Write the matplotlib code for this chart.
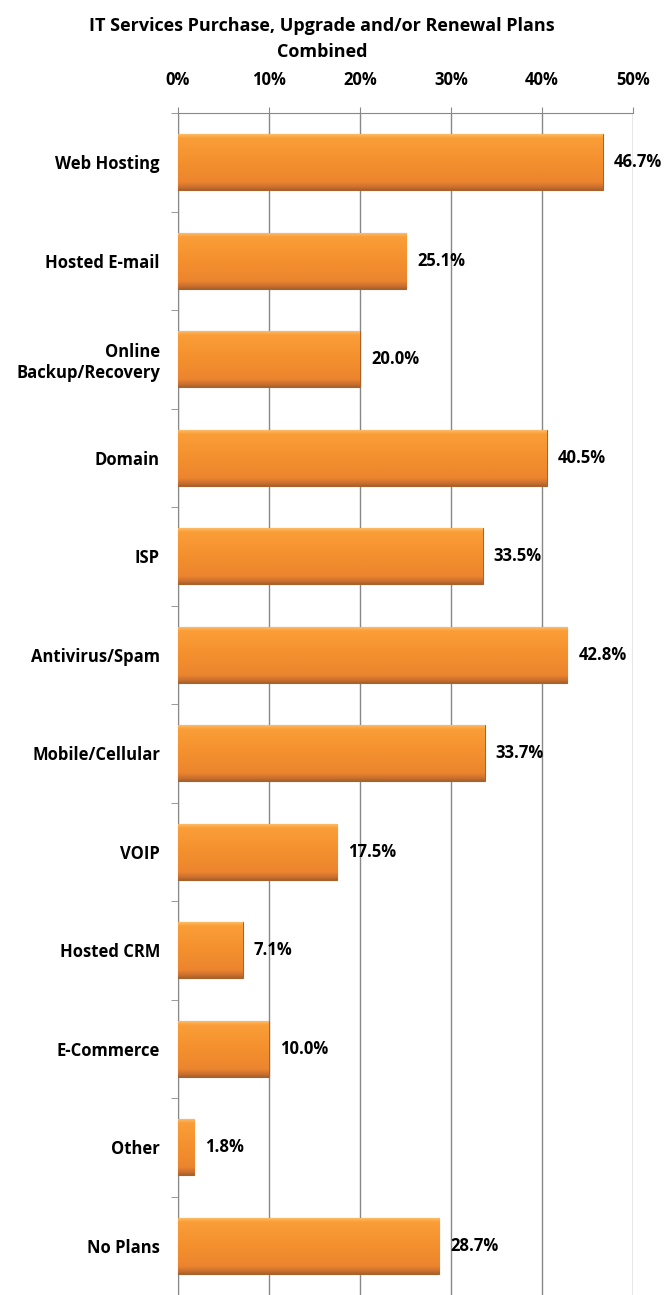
import numpy as np
import matplotlib.pyplot as plt
from matplotlib.colors import LinearSegmentedColormap
from matplotlib.ticker import FixedLocator, PercentFormatter

categories = ["Web Hosting", "Hosted E-mail", "Online\nBackup/Recovery", "Domain", "ISP",
              "Antivirus/Spam", "Mobile/Cellular", "VOIP", "Hosted CRM", "E-Commerce",
              "Other", "No Plans"]
values = [46.7, 25.1, 20.0, 40.5, 33.5, 42.8, 33.7, 17.5, 7.1, 10.0, 1.8, 28.7]
title = "IT Services Purchase, Upgrade and/or Renewal Plans\nCombined"

plt.rcParams["font.family"] = ["Open Sans", "DejaVu Sans"]
plt.rcParams["font.weight"] = "bold"
fs = 12

fig = plt.figure(figsize=(6.68, 12.95), dpi=100)
ax = fig.add_axes([178 / 668, 0.0, 455 / 668, 1 - 113 / 1295])

y = np.arange(len(categories))
bars = ax.barh(y, values, height=0.57, color="#F39030", edgecolor="#A8622A",
               linewidth=0.8, zorder=3)

# bevel-like vertical gradient on each bar
grad = np.linspace(0, 1, 128).reshape(-1, 1)
cmap = LinearSegmentedColormap.from_list(
    "bar", [(0, "#FDC474"), (0.08, "#FA9E38"), (0.5, "#F4902E"),
            (0.86, "#EC852E"), (0.95, "#CC7030"), (1, "#A8622A")])
for b in bars:
    x0, y0 = b.get_x(), b.get_y()
    w, h = b.get_width(), b.get_height()
    im = ax.imshow(grad, cmap=cmap, aspect="auto", extent=(x0, x0 + w, y0 + h, y0),
                   zorder=3.5, interpolation="bilinear")
    im.set_clip_path(b)

for yi, v in zip(y, values):
    ax.text(v + 1.2, yi, f"{v:.1f}%", va="center", ha="left", fontsize=fs,
            fontweight="bold", zorder=5)

ax.set_xlim(0, 50)
ax.set_ylim(len(categories) - 0.5, -0.5)
ax.xaxis.set_major_locator(FixedLocator([0, 10, 20, 30, 40, 50]))
ax.xaxis.set_major_formatter(PercentFormatter(decimals=0))
ax.xaxis.tick_top()
ax.tick_params(axis="x", direction="out", length=4.5, color="#888888", pad=13,
               labelsize=fs)

ax.set_yticks(y)
ax.set_yticklabels(categories, fontsize=fs, fontweight="bold")
ax.set_yticks(np.arange(len(categories) + 1) - 0.5, minor=True)
ax.tick_params(axis="y", which="major", length=0, pad=13)
ax.tick_params(axis="y", which="minor", length=5, color="#888888")

ax.grid(axis="x", color="#888888", linewidth=1.0, zorder=0)
for s in ["right", "bottom"]:
    ax.spines[s].set_visible(False)
for s in ["top", "left"]:
    ax.spines[s].set_color("#888888")

fig.text(322 / 668, 1 - 39 / 1295, title, ha="center", va="center",
         fontsize=13, fontweight="bold", linespacing=1.6)

fig.savefig("out.png", dpi=100)
